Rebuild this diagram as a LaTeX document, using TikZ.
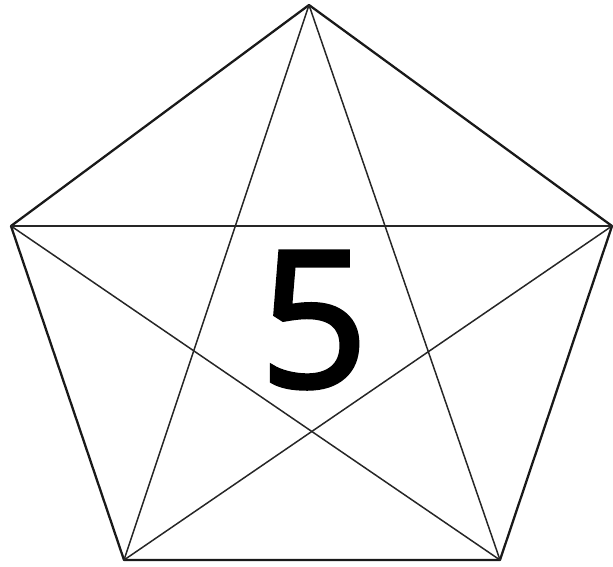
\documentclass[tikz,border=0pt]{standalone}
\usepackage{fontspec}
\newfontfamily\digitfont{Open Sans}[FakeBold=2.2]
\usetikzlibrary{positioning}
\tikzset{
  rim/.style={line width=1.3pt, black!90},
  diag/.style={line width=0.85pt, black!85},
}

\begin{document}
\begin{tikzpicture}[x=0.02cm, y=-0.02cm]
  \useasboundingbox (0,0) rectangle (613,566);
  % corners of the pentagon
  \coordinate (top) at (309,5);
  \coordinate (left) at (11,226);
  \coordinate (right) at (612,226);
  \coordinate (botl) at (124,560);
  \coordinate (botr) at (500,560);
  % outline
  \draw[rim, line join=round] (top) -- (right) -- (botr) -- (botl) -- (left) -- cycle;
  % star
  \draw[diag] (top) -- (botl);
  \draw[diag] (top) -- (botr);
  \draw[diag] (left) -- (right);
  \draw[diag] (left) -- (botr);
  \draw[diag] (right) -- (botl);
  % number
  \node[inner sep=0pt, font=\digitfont\fontsize{108}{108}\selectfont] (num) at (314,320) {5};
\end{tikzpicture}
\end{document}
